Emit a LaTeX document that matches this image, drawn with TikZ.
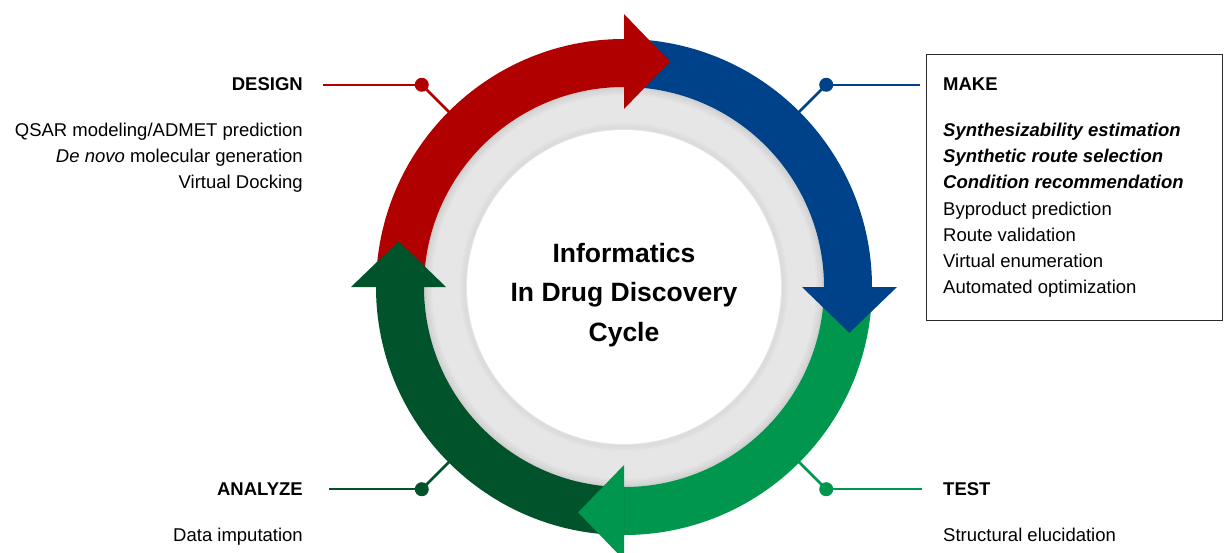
\documentclass[tikz,border=0pt]{standalone}
\usepackage{fontspec}
\setmainfont{Liberation Sans}
\usetikzlibrary{calc}
\definecolor{CycRed}{HTML}{B00000}
\definecolor{CycBlue}{HTML}{00428A}
\definecolor{CycGreen}{HTML}{00964E}
\definecolor{CycDark}{HTML}{00532A}
\definecolor{RingGray}{HTML}{E6E6E6}
\definecolor{BoxLine}{HTML}{2B2B2B}
\tikzset{
  stage/.style={font=\bfseries\fontsize{18.5}{22}\selectfont, inner sep=0pt},
  item/.style={font=\fontsize{18.5}{22}\selectfont, inner sep=0pt},
  pin/.style={circle, fill=#1, inner sep=0pt, minimum size=14pt},
  lead/.style={draw=#1, line width=2pt},
  spoke/.style={draw=#1, line width=2.8pt},
  title/.style={font=\bfseries\fontsize{26.5}{39.3}\selectfont, align=center, inner sep=0pt}
}

\begin{document}
\begin{tikzpicture}[x=1pt,y=1pt]
\useasboundingbox (0,0) rectangle (1224,-552);
\coordinate (c) at (624,-287);
% gray ring and white centre, soft shadows
\fill[RingGray] (c) circle[radius=215];
\foreach \r/\o in {199/.09, 197/.06, 195/.04, 193/.02}
  \draw[black, opacity=\o, line width=2pt] (c) circle[radius=\r];
\foreach \r/\o in {163/.015, 161/.03, 159/.045}
  \draw[black, opacity=\o, line width=2pt] (c) circle[radius=\r];
\fill[white] (c) circle[radius=157];
\node[title] (cycle) at ($(c)+(0,-8)$) {Informatics\\In Drug Discovery\\Cycle};
% arrow bodies, then heads on top
\foreach \a/\col [evaluate=\a as \b using \a-90] in {180/CycRed, 90/CycBlue, 0/CycGreen, -90/CycDark}
  \fill[\col] ($(c)+(\a:248)$) arc[start angle=\a, end angle=\b, radius=248]
    -- ($(c)+(\b:200)$) arc[start angle=\b, end angle=\a, radius=200] -- cycle;
\foreach \a/\col [evaluate=\a as \t using \a-11.5] in {90/CycRed, 0/CycBlue, -90/CycGreen, 180/CycDark}
  \fill[\col] ($(c)+(\a:273)$) -- ($(c)+(\t:230)$) -- ($(c)+(\a:178)$) -- cycle;
% pins
\node[pin=CycRed] (dpin) at ($(c)+(135:286)$) {};
\node[pin=CycBlue] (mpin) at ($(c)+(45:286)$) {};
\node[pin=CycGreen] (tpin) at ($(c)+(-45:286)$) {};
\node[pin=CycDark] (apin) at ($(c)+(-135:286)$) {};
\coordinate (dring) at ($(c)+(135:247)$);
\coordinate (mring) at ($(c)+(45:247)$);
\coordinate (tring) at ($(c)+(-45:247)$);
\coordinate (aring) at ($(c)+(-135:247)$);
\coordinate (dend) at (323,0);
\coordinate (mend) at (920,0);
\coordinate (tend) at (922,0);
\coordinate (aend) at (329,0);
\draw[spoke=CycRed] (dring) -- (dpin.center);
\draw[spoke=CycBlue] (mring) -- (mpin.center);
\draw[spoke=CycGreen] (tring) -- (tpin.center);
\draw[spoke=CycDark] (aring) -- (apin.center);
\draw[lead=CycRed] (dpin.center) -- (dpin.center -| dend);
\draw[lead=CycBlue] (mpin.center) -- (mpin.center -| mend);
\draw[lead=CycGreen] (tpin.center) -- (tpin.center -| tend);
\draw[lead=CycDark] (apin.center) -- (apin.center -| aend);
% design
\node[stage, anchor=base east] (design) at (303,-90.5) {DESIGN};
\foreach \t [count=\i] in {{QSAR modeling/ADMET prediction}, {\textit{De novo} molecular generation}, {Virtual Docking}}
  \node[item, anchor=base east] (ds\i) at (303,{-136.5-26.2*(\i-1)}) {\t};
% make
\node[draw=BoxLine, line width=1.3pt, minimum width=296pt, minimum height=266pt, anchor=north west, inner sep=0pt] (makebox) at (926,-54) {};
\node[stage, anchor=base west] (make) at (943,-90.5) {MAKE};
\foreach \t [count=\i] in {{\textbf{\textit{Synthesizability estimation}}}, {\textbf{\textit{Synthetic route selection}}}, {\textbf{\textit{Condition recommendation}}}, {Byproduct prediction}, {Route validation}, {Virtual enumeration}, {Automated optimization}}
  \node[item, anchor=base west] (mk\i) at (943,{-136.5-26.2*(\i-1)}) {\t};
% test
\node[stage, anchor=base west] (test) at (943,-495) {TEST};
\node[item, anchor=base west] (ts1) at (943,-541) {Structural elucidation};
% analyze
\node[stage, anchor=base east] (analyze) at (303,-495.5) {ANALYZE};
\node[item, anchor=base east] (an1) at (303,-541.5) {Data imputation};
\end{tikzpicture}
\end{document}
